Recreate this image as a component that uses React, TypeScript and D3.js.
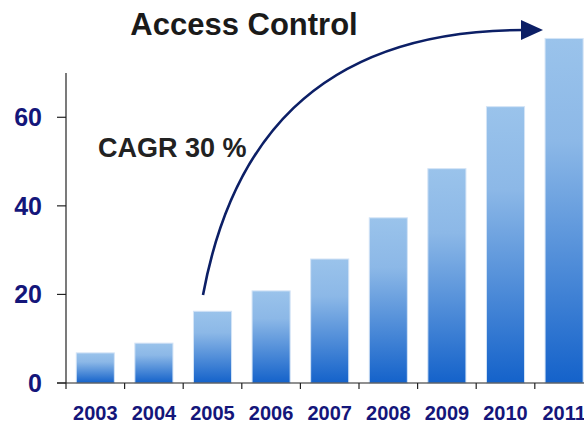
import React, { useEffect } from 'react';
import * as d3 from 'd3';

// Access Control market growth
const years = ['2003', '2004', '2005', '2006', '2007', '2008', '2009', '2010', '2011'];
const values = [6.8, 9.0, 16.2, 20.8, 28.0, 37.3, 48.4, 62.4, 77.8];
const yTicks = [0, 20, 40, 60];

const title = 'Access Control';
const cagrLabel = 'CAGR 30 %';

const W = 584;
const H = 427;

const App: React.FC = () => {
  useEffect(() => {
    document.body.style.margin = '0';
  }, []);

  const axisX = 66;
  const axisY = 383;

  const xScale = d3
    .scaleBand<string>()
    .domain(years)
    .range([axisX, axisX + 58.6 * years.length])
    .paddingInner(0.35)
    .paddingOuter(0.175);

  const yScale = d3.scaleLinear().domain([0, 70]).range([axisY, 73]);

  const step = xScale.step();
  const boundaries = years.map(y => (xScale(y) || 0) - step * 0.175);

  // growth arrow
  const arrow = d3.path();
  arrow.moveTo(203, 295);
  arrow.bezierCurveTo(230, 150, 310, 30, 524, 30);

  const navy = '#14167a';

  return (
    <svg width={W} height={H} style={{ display: 'block' }}>
      <defs>
        <linearGradient id="barGrad" x1="0" y1="0" x2="0" y2="1">
          <stop offset="0%" stopColor="#9ac3eb" />
          <stop offset="30%" stopColor="#8cb8e7" />
          <stop offset="100%" stopColor="#1462ca" />
        </linearGradient>
      </defs>

      <text
        x={244}
        y={35}
        textAnchor="middle"
        fontFamily="Liberation Sans, Arial, sans-serif"
        fontWeight="bold"
        fontSize={31}
        fill="#1a1a1a"
      >
        {title}
      </text>

      {/* bars */}
      {years.map((y, i) => (
        <rect
          key={y}
          x={xScale(y)}
          y={yScale(values[i])}
          width={xScale.bandwidth()}
          height={axisY - yScale(values[i])}
          fill="url(#barGrad)"
          stroke="#d4e4f6"
          strokeWidth={1}
        />
      ))}

      {/* y axis */}
      <line x1={axisX} x2={axisX} y1={yScale(70)} y2={axisY} stroke="#222" strokeWidth={1.2} />
      {yTicks.map(t => (
        <g key={t}>
          <line x1={axisX - 9} x2={axisX} y1={yScale(t)} y2={yScale(t)} stroke="#222" strokeWidth={1.2} />
          <text
            x={42}
            y={yScale(t)}
            dy="0.36em"
            textAnchor="end"
            fontFamily="Liberation Sans, Arial, sans-serif"
            fontWeight="bold"
            fontSize={25}
            fill={navy}
          >
            {t}
          </text>
        </g>
      ))}

      {/* x axis */}
      <line x1={axisX - 9} x2={W} y1={axisY} y2={axisY} stroke="#222" strokeWidth={1.2} />
      {boundaries.map((b, i) => (
        <line key={i} x1={b} x2={b} y1={axisY} y2={axisY + 6} stroke="#222" strokeWidth={1.2} />
      ))}
      {years.map(y => (
        <text
          key={y}
          x={(xScale(y) || 0) + xScale.bandwidth() / 2}
          y={420}
          textAnchor="middle"
          fontFamily="Liberation Sans, Arial, sans-serif"
          fontWeight="bold"
          fontSize={20}
          fill={navy}
        >
          {y}
        </text>
      ))}

      {/* CAGR annotation */}
      <text
        x={98}
        y={157}
        fontFamily="Liberation Sans, Arial, sans-serif"
        fontWeight="bold"
        fontSize={27}
        fill="#222"
      >
        {cagrLabel}
      </text>

      <path d={arrow.toString()} fill="none" stroke="#0c1f66" strokeWidth={2.6} />
      <path d="M521,20 L543,30 L521,40 Z" fill="#0c1f66" />
    </svg>
  );
};

export default App;
